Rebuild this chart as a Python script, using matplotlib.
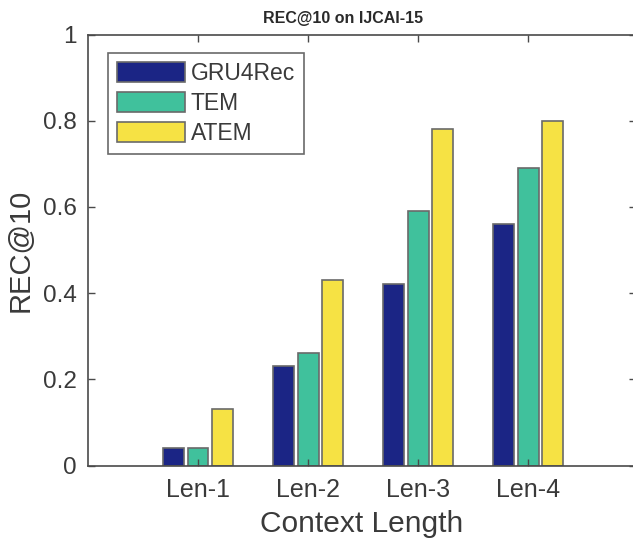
import matplotlib
matplotlib.use("Agg")
import matplotlib.pyplot as plt
import numpy as np

categories = ["Len-1", "Len-2", "Len-3", "Len-4"]
gru4rec = [0.04, 0.23, 0.42, 0.56]
tem = [0.04, 0.26, 0.59, 0.69]
atem = [0.13, 0.43, 0.78, 0.80]
series_names = ["GRU4Rec", "TEM", "ATEM"]
colors = ["#1b2585", "#40c19c", "#f6e244"]

plt.rcParams['font.family'] = ['Liberation Sans', 'DejaVu Sans']

fig = plt.figure(figsize=(6.33, 5.41), dpi=100)
ax = fig.add_axes([88/633, 1-465.5/541, 548/633, 431/541])

x = np.arange(1, len(categories) + 1)
w = 0.19
off = 0.22
edge = "#6a6a6a"
for i, (vals, name, c) in enumerate(zip([gru4rec, tem, atem], series_names, colors)):
    ax.bar(x + (i - 1) * off, vals, width=w, color=c, edgecolor=edge,
           linewidth=1.2, label=name)

ax.set_xlim(0, 4.98)
ax.set_ylim(0, 1)
ax.set_xticks(x)
ax.set_xticklabels(categories)
ax.set_yticks([0, 0.2, 0.4, 0.6, 0.8, 1])
ax.set_yticklabels(["0", "0.2", "0.4", "0.6", "0.8", "1"])
ax.tick_params(direction="in", top=True, right=True, length=5, width=1,
               colors="#4a4a4a", labelcolor="#3a3a3a")
ax.tick_params(axis="x", labelsize=18, pad=9)
ax.tick_params(axis="y", labelsize=17.5, pad=8)
for s in ax.spines.values():
    s.set_color("#4a4a4a")
    s.set_linewidth(1.2)

ax.set_xlabel("Context Length", fontsize=21.5, color="#3a3a3a", labelpad=6)
ax.set_ylabel("REC@10", fontsize=21, color="#3a3a3a", labelpad=6)
fig.text(343/633, 1-19/541, "REC@10 on IJCAI-15", fontsize=11.5,
         fontweight="bold", color="#2a2a2a", ha="center", va="center")

leg = ax.legend(loc="upper left", bbox_to_anchor=(20/548, 1-18/431), fontsize=16.5,
                handlelength=2.95, handleheight=1.0, labelspacing=0.3,
                handletextpad=0.25, borderpad=0.4, borderaxespad=0,
                fancybox=False, framealpha=1, edgecolor="#6a6a6a")
leg.get_frame().set_linewidth(1.2)
for t in leg.get_texts():
    t.set_color("#3a3a3a")

fig.savefig("out.png", dpi=100)
